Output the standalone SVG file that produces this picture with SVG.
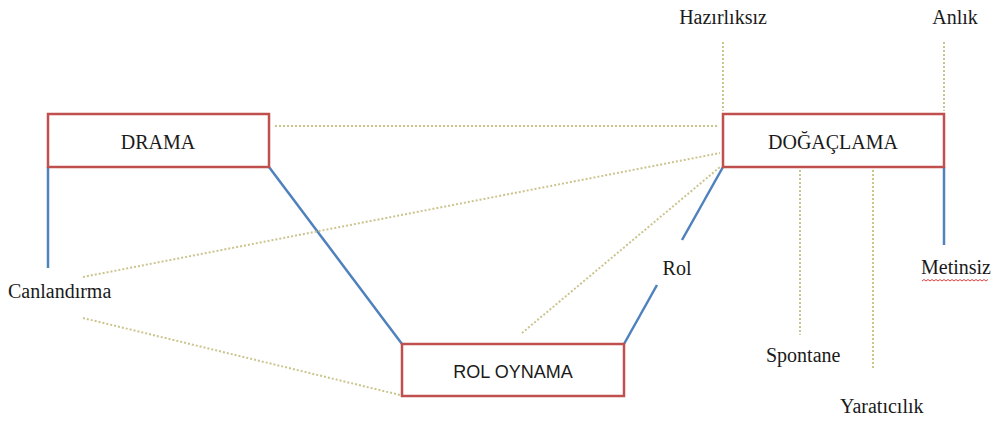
<svg xmlns="http://www.w3.org/2000/svg" width="996" height="426" viewBox="0 0 996 426">
<style>
.box{fill:#fff;stroke:#c0504d;stroke-width:2.5}
.solid{stroke:#4f81bd;stroke-width:2.5;fill:none}
.dot{stroke:#cbc48e;stroke-width:2;stroke-dasharray:2 2;fill:none}
.t{font-family:'Liberation Serif','Times New Roman','DejaVu Serif',serif;font-size:20px;fill:#1a1a1a}
.s{font-family:'Liberation Sans',Arial,sans-serif;font-size:18px;fill:#1a1a1a}
</style>
<rect width="996" height="426" fill="#fff"/>
<g id="connectors">
<line class="solid" x1="48" y1="167" x2="48" y2="268"/>
<line class="solid" x1="269" y1="167" x2="402" y2="344"/>
<line class="solid" x1="624" y1="344" x2="657" y2="285"/>
<line class="solid" x1="682" y1="240" x2="723" y2="167"/>
<line class="solid" x1="944" y1="167" x2="944" y2="245"/>
<line class="dot" x1="275" y1="126" x2="719" y2="126"/>
<line class="dot" x1="83" y1="277" x2="720" y2="153"/>
<line class="dot" x1="83" y1="318" x2="400" y2="395"/>
<line class="dot" x1="522" y1="333" x2="720" y2="167"/>
<line class="dot" x1="723" y1="42" x2="723" y2="111"/>
<line class="dot" x1="944" y1="42" x2="944" y2="111"/>
<line class="dot" x1="800" y1="170" x2="800" y2="335"/>
<line class="dot" x1="873" y1="170" x2="873" y2="370"/>
</g>
<g id="drama"><rect class="box" x="48" y="114" width="221" height="53"/><text class="t" x="158" y="149" text-anchor="middle" font-size="21">DRAMA</text></g>
<g id="dogaclama"><rect class="box" x="723" y="114" width="221" height="53"/><text class="t" x="833" y="149" text-anchor="middle" font-size="21.5">DOĞAÇLAMA</text></g>
<g id="roloynama"><rect class="box" x="402" y="344" width="222" height="52"/><text class="s" x="513" y="378" text-anchor="middle">ROL OYNAMA</text></g>
<g id="hazirliksiz"><text class="t" x="723" y="24" text-anchor="middle" font-size="19">Hazırlıksız</text></g>
<g id="anlik"><text class="t" x="955" y="24" text-anchor="middle" font-size="19">Anlık</text></g>
<g id="canlandirma"><text class="t" x="8" y="298" font-size="20.5">Canlandırma</text></g>
<g id="rol"><text class="t" x="677" y="275" text-anchor="middle">Rol</text></g>
<g id="metinsiz"><text class="t" x="921" y="274">Metinsiz</text><path d="M922 281 l2 -1.5 l2 1.5 l2 -1.5 l2 1.5 l2 -1.5 l2 1.5 l2 -1.5 l2 1.5 l2 -1.5 l2 1.5 l2 -1.5 l2 1.5 l2 -1.5 l2 1.5 l2 -1.5 l2 1.5 l2 -1.5 l2 1.5 l2 -1.5 l2 1.5 l2 -1.5 l2 1.5 l2 -1.5 l2 1.5 l2 -1.5 l2 1.5 l2 -1.5 l2 1.5 l2 -1.5 l2 1.5 l2 -1.5 l2 1.5 l2 -1.5" fill="none" stroke="#e04040" stroke-width="1"/></g>
<g id="spontane"><text class="t" x="766" y="362">Spontane</text></g>
<g id="yaraticilik"><text class="t" x="840" y="413" font-size="19.5">Yaratıcılık</text></g>
</svg>
